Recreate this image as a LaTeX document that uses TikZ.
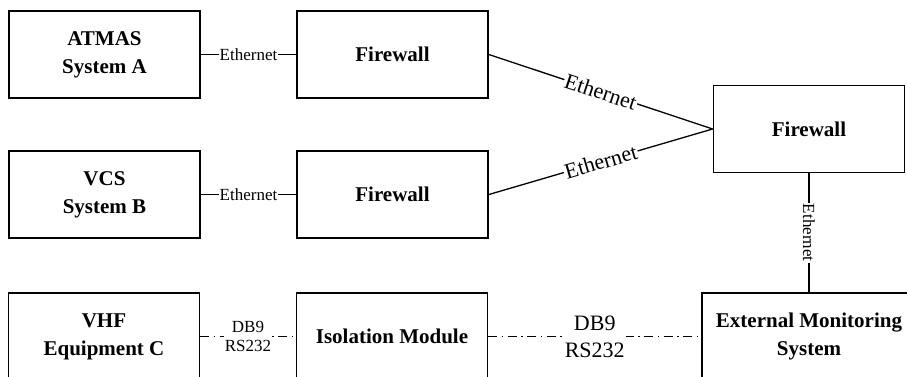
\documentclass[tikz,border=0pt]{standalone}
\usepackage{fontspec}
\setmainfont{Liberation Serif}
\begin{document}
\begin{tikzpicture}[x=1pt,y=1pt,
  box/.style={draw,line width=1.8pt,minimum width=191pt,minimum height=87pt,inner sep=0pt,align=center,font=\bfseries\fontsize{21}{28}\selectfont},
  link/.style={line width=1.3pt},
  serial/.style={line width=1.3pt,dash pattern=on 9pt off 4.5pt on 1.5pt off 4.5pt},
  lab/.style={fill=white,inner sep=1pt,align=center,font=\fontsize{17}{19}\selectfont},
  biglab/.style={fill=white,inner sep=1pt,align=center,font=\fontsize{22}{27}\selectfont}]
\useasboundingbox (0,0) rectangle (907,376);
\clip (0,0) rectangle (907,376);
\node[box] (atmas) at (104.5,321.5) {ATMAS\\System A};
\node[box] (fwa) at (392.5,321.5) {Firewall};
\node[box] (vcs) at (104.5,181.5) {VCS\\System B};
\node[box] (fwb) at (392.5,181.5) {Firewall};
\node[box] (fwc) at (809,247) {Firewall};
\node[box] (vhf) at (104,39.5) {VHF\\Equipment C};
\node[box] (iso) at (392,39.5) {Isolation Module};
\node[box,minimum width=214pt] (ems) at (809,39.5) {External Monitoring\\System};
\draw[link] (atmas) -- node[lab]{Ethernet} (fwa);
\draw[link] (vcs) -- node[lab]{Ethernet} (fwb);
\draw[link] (fwa.east) -- node[biglab,sloped]{Ethernet} (fwc.west);
\draw[link] (fwb.east) -- node[biglab,sloped]{Ethernet} (fwc.west);
\draw[link] (fwc) -- node[lab,rotate=-90]{Ethernet} (ems);
\draw[serial] (vhf) -- node[lab]{DB9\\RS232} (iso);
\draw[serial] (iso) -- node[biglab]{DB9\\RS232} (ems);
\end{tikzpicture}
\end{document}
